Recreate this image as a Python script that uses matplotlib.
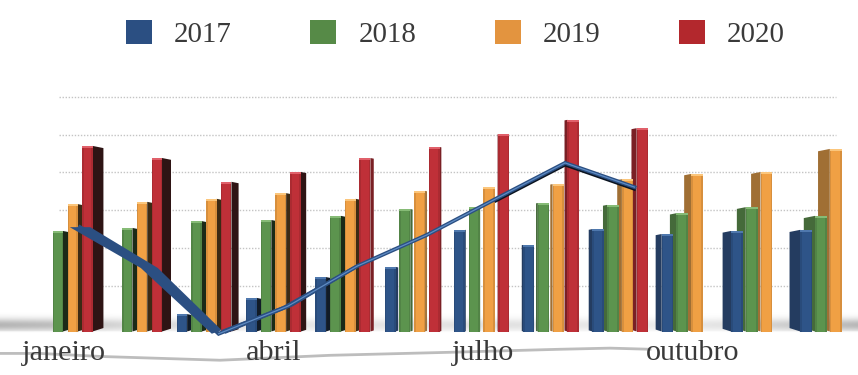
import numpy as np
import matplotlib
matplotlib.use("Agg")
import matplotlib.pyplot as plt
from matplotlib.patches import Patch

plt.rcParams["font.family"] = ["Liberation Serif", "DejaVu Serif"]

months = ["janeiro", "fevereiro", "março", "abril", "maio", "junho", "julho",
          "agosto", "setembro", "outubro", "novembro", "dezembro"]
shown_months = [0, 3, 6, 9]
years = ["2017", "2018", "2019", "2020"]

v2017 = [0, 0, 4.6, 8.9, 14.4, 17.1, 26.9, 22.9, 27.1, 25.8, 26.6, 26.9]
v2018 = [26.6, 27.4, 29.2, 29.5, 30.6, 32.4, 32.9, 34.0, 33.5, 31.3, 32.9, 30.6]
v2019 = [33.7, 34.3, 35.1, 36.6, 35.1, 37.2, 38.2, 39.0, 40.3, 41.7, 42.2, 48.3]
v2020 = [49.1, 45.9, 39.6, 42.2, 45.9, 48.8, 52.2, 56.0, 53.8, 0, 0, 0]
line_values = [27.6, 16.8, -0.6, 6.7, 17.3, 25.5, 35.1, 44.6, 38.2]
grid_values = [10, 20, 30, 40, 50, 60]

colors = ["#2e5488", "#5c944e", "#f0a044", "#bf3038"]
legend_colors = ["#2b4f82", "#568a47", "#e3943f", "#b3282d"]
dark_sides = ["#111b27", "#1b2a18", "#3c2a14", "#2e1414"]
mid_sides = ["#243c60", "#456a3a", "#a06f34", "#7a2025"]
caps = ["#4f78ad", "#86bb76", "#fbc67c", "#e0606a"]

# pixel <-> data scale of the picture
PX_X = 69.3
PX_Y = 3.78
X0 = 38.0
Y0 = 331.5
BAR_STEP = 14.75 / PX_X
VANISH = 6.52
WALL = 2.1


def depth(x):
    # side face gets wider the further the bar is from the vanishing point
    if x < VANISH:
        return 0.027 * (VANISH - x)
    return 0.034 * (VANISH - x)


def draw_bar(ax, x, value, i, z):
    if value <= 0:
        return
    width = (10.2 + 0.16 * max(x, 0)) / PX_X
    d = depth(x + width / 2)
    if d >= 0:
        x_front, x_far = x + width, x + width + d
        side = dark_sides[i] if x < 4.5 else mid_sides[i]
    else:
        x_front, x_far = x, x + d
        side = mid_sides[i]
    drop = abs(d) * PX_X * 0.2 / PX_Y
    ax.fill([x_front, x_far, x_far, x_front],
            [0, drop * 1.6, value - drop, value],
            color=side, lw=0, zorder=z)
    ax.bar(x, value, width, align="edge", color=colors[i], lw=0, zorder=z)
    # soft shading on the front face
    ax.bar(x, value, width * 0.14, align="edge", color="black", alpha=0.10, lw=0, zorder=z)
    ax.bar(x + width * 0.86, value, width * 0.14, align="edge", color="black", alpha=0.10, lw=0, zorder=z)
    ax.bar(x, 0.5, width, bottom=value - 0.5, align="edge", color=caps[i], lw=0, zorder=z)


fig = plt.figure(figsize=(8.58, 3.75), dpi=100)
ax = fig.add_axes([0, 0, 1, 1])
ax.set_xlim(-X0 / PX_X, (858 - X0) / PX_X)
ax.set_ylim((Y0 - 375) / PX_Y, Y0 / PX_Y)
ax.axis("off")

# floor shadow
xs = np.linspace(0, 858, 430)
ys = np.linspace(310, 336, 52)
strength = np.interp(xs, [0, 50, 120, 300, 500, 650, 720, 800, 858],
                     [0.29, 0.26, 0.16, 0.10, 0.12, 0.08, 0.11, 0.21, 0.28])
profile = np.exp(-((ys - 325) / 6.5) ** 2)
profile[ys > 331] *= np.exp(-(ys[ys > 331] - 331) / 0.8)
shadow = np.zeros((len(ys), len(xs), 4))
shadow[..., 3] = np.outer(profile, strength)
ax.imshow(shadow, extent=[(xs[0] - X0) / PX_X, (xs[-1] - X0) / PX_X,
                          (Y0 - ys[-1]) / PX_Y, (Y0 - ys[0]) / PX_Y],
          aspect="auto", origin="upper", zorder=1)

# thin curve under the floor
curve_x = [0, 40, 100, 220, 330, 450, 560, 610, 650]
curve_y = [-5.8, -5.8, -6.6, -7.6, -6.3, -5.5, -4.7, -4.4, -4.7]
ax.plot((np.array(curve_x) - X0) / PX_X, curve_y, color="#bdbdbd", lw=2, zorder=1.5)

ax.hlines(np.array(grid_values) + WALL, (59 - X0) / PX_X, (836 - X0) / PX_X,
          color="#c4c4c4", lw=1, linestyles=(0, (1, 1.2)), zorder=2)

series = [v2017, v2018, v2019, v2020]
for m in range(len(months)):
    order = range(4) if m < 7 else range(3, -1, -1)
    for i in order:
        draw_bar(ax, m + i * BAR_STEP, series[i][m], i, 3 + m + i * 0.1 if m < 7 else 3 + m - i * 0.1)

# 3D ribbon line: a band swept sideways, wider away from the vanishing point
lx = np.arange(len(line_values)) + 42.0 / PX_X
ly = np.array(line_values)
sweep = 0.05 * np.abs(VANISH - lx)
band_x = np.concatenate([lx - sweep / 2, (lx + sweep / 2)[::-1]])
band_y = np.concatenate([ly, ly[::-1]])
ax.plot(lx[6:], ly[6:] - 0.55, color="#0b1420", lw=2.2, zorder=19)
ax.fill(band_x, band_y, color="#2b4f82", lw=0, zorder=20)
ax.plot(lx, ly, color="#2b4f82", lw=2.8, solid_joinstyle="miter", zorder=21)
ax.plot(lx[2:], ly[2:], color="#5f8cc4", lw=0.9, solid_joinstyle="miter", zorder=22)

for m in shown_months:
    ax.text(m * 1.008 + 0.375, -7.6, months[m], ha="center", va="baseline", fontsize=21.8, color="#3a3a3a", zorder=30)

handles = [Patch(facecolor=c, edgecolor="none", label=y) for c, y in zip(legend_colors, years)]
ax.legend(handles=handles, loc="upper left", bbox_to_anchor=(126 / 858, 1 - 20 / 375), ncol=4,
          frameon=False, fontsize=20.8, labelcolor="#3a3a3a", borderpad=0, borderaxespad=0,
          handlelength=0.9, handleheight=0.9, handletextpad=0.76, columnspacing=2.72)

fig.savefig("out.png", dpi=100)
plt.close(fig)
